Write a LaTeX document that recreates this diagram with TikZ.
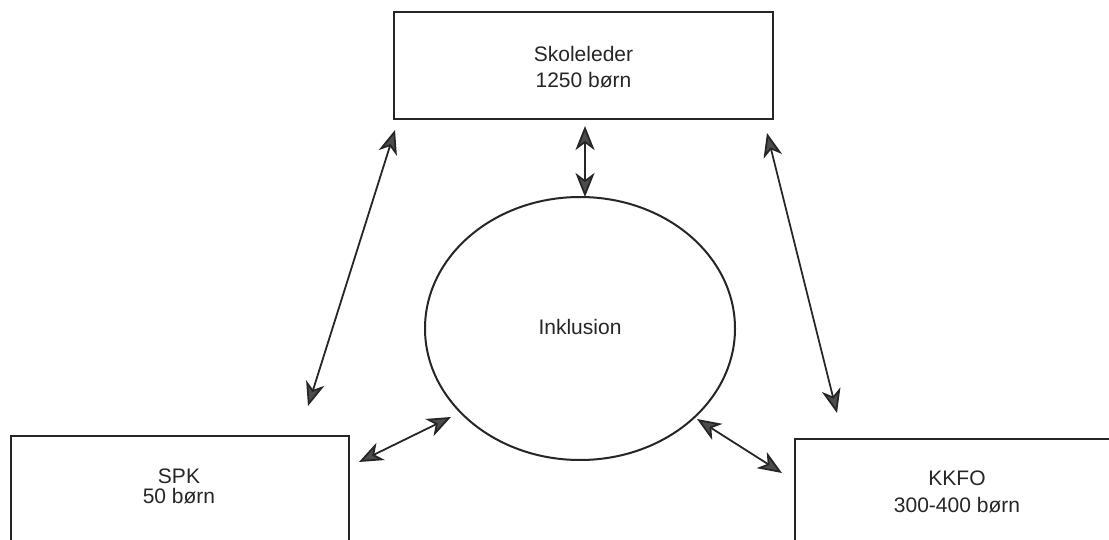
\documentclass[tikz,border=0pt]{standalone}
\usepackage{fontspec}
\setmainfont{Liberation Sans}
\usetikzlibrary{arrows.meta}
\begin{document}
\begin{tikzpicture}[x=1pt,y=-1pt,
  box/.style={draw=black!85,line width=2pt,rectangle,inner sep=0pt},
  lbl/.style={font=\fontsize{21}{26}\selectfont,text=black!85,align=center,inner sep=0pt},
  arr/.style={line width=1.8pt,draw=black!85,
    arrows={Stealth[length=24pt,width=19pt,inset=7pt,fill=black!70,color=black!85]-Stealth[length=24pt,width=19pt,inset=7pt,fill=black!70,color=black!85]}}]
\useasboundingbox (0,0) rectangle (1109,540);
\clip (0,0) rectangle (1109,540);
\fill[white] (0,0) rectangle (1109,540);
% boxes
\node[box,minimum width=379pt,minimum height=107pt] (sk) at (583.5,65.5) {};
\node[lbl] (skt) at (583.5,67) {Skoleleder\\1250 børn};
\node[box,minimum width=338pt,minimum height=130pt] (spk) at (180,501) {};
\node[lbl,font=\fontsize{21}{20}\selectfont] (spkt) at (179,486) {SPK\\50 børn};
\node[box,minimum width=324pt,minimum height=130pt] (kk) at (957,504) {};
\node[lbl,font=\fontsize{21}{27}\selectfont] (kkt) at (957,492) {KKFO\\300-400 børn};
% ellipse
\draw[line width=2pt,draw=black!85] (580,328.5) ellipse [x radius=155, y radius=131.5];
\node[lbl] (inc) at (580,327) {Inklusion};
% arrow end points
\coordinate (a1) at (585,126);
\coordinate (a2) at (585,197);
\coordinate (b1) at (395,130);
\coordinate (b2) at (308,406);
\coordinate (c1) at (767,133);
\coordinate (c2) at (837,413);
\coordinate (d1) at (359,462);
\coordinate (d2) at (451,417);
\coordinate (e1) at (697,419);
\coordinate (e2) at (782,473);
\draw[arr] (a1) -- (a2);
\draw[arr] (b1) -- (b2);
\draw[arr] (c1) -- (c2);
\draw[arr] (d1) -- (d2);
\draw[arr] (e1) -- (e2);
\end{tikzpicture}
\end{document}
